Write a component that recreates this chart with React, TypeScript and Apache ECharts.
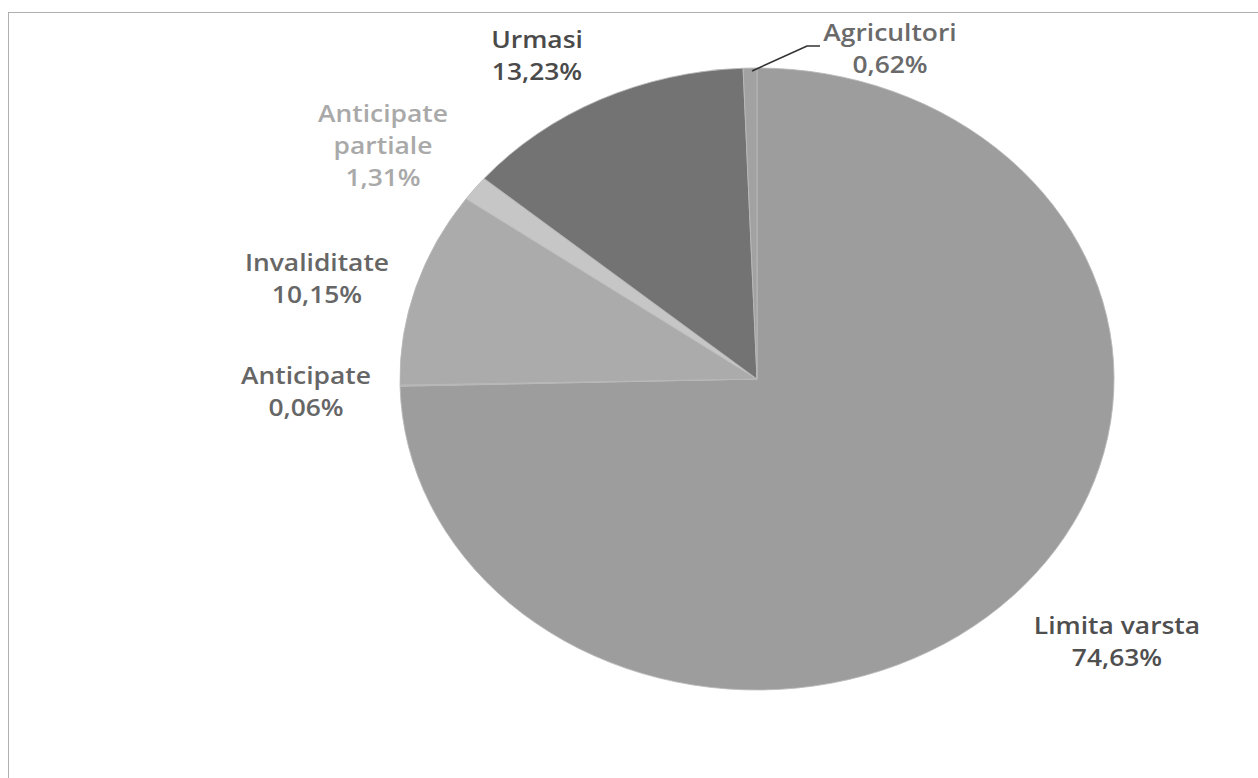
import React, { useEffect, useRef } from "react";
import * as echarts from "echarts";

// ---- data ----
const categories = ["Limita varsta", "Anticipate", "Invaliditate", "Anticipate partiale", "Urmasi", "Agricultori"];
const shares = [74.63, 0.06, 10.15, 1.31, 13.23, 0.62];

// ---- styles / layout (not data) ----
const sliceColors = ["#9d9d9d", "#b2b2b2", "#ababab", "#c6c6c6", "#737373", "#a2a2a2"];
const labelColors = ["#4f4f4f", "#666666", "#666666", "#a9a9a9", "#4a4a4a", "#6a6a6a"];
const labelWrap: Record<string, string> = { "Anticipate partiale": "Anticipate\npartiale" };
// label block centres in page pixels
const labelPos: number[][] = [
  [1117, 641],
  [306, 391],
  [317, 278],
  [383, 145],
  [537, 55],
  [890, 48],
];

const W = 1258;
const H = 778;
const SX = 1.148; // horizontal stretch of the scanned pie
const CX = 757;
const CY = 379;
const R = 311;

export default function App() {
  const ref = useRef<HTMLDivElement>(null);
  useEffect(() => {
    if (!ref.current) return;
    const chart = echarts.init(ref.current, null, { renderer: "svg" });
    const data = categories.map((name, i) => ({
      name,
      value: shares[i],
      itemStyle: { color: sliceColors[i] },
      label: { color: labelColors[i] },
    }));
    chart.setOption({
      animation: false,
      backgroundColor: "#ffffff",
      series: [
        {
          type: "pie",
          center: [CX / SX, CY],
          radius: R,
          startAngle: 90,
          clockwise: true,
          avoidLabelOverlap: false,
          itemStyle: { borderColor: "#b9b9b9", borderWidth: 0.8 },
          label: {
            show: true,
            position: "outside",
            fontFamily: "Open Sans",
            fontWeight: 600,
            fontSize: 23,
            lineHeight: 32,
            align: "center",
            formatter: (p: any) =>
              `${labelWrap[p.name] ?? p.name}\n${Number(p.value).toFixed(2).replace(".", ",")}%`,
          },
          labelLine: { show: false },
          labelLayout: (params: any) => {
            const p = labelPos[params.dataIndex];
            return { x: p[0] / SX, y: p[1], align: "center", verticalAlign: "middle" };
          },
          emphasis: { disabled: true },
          data,
        },
      ],
      graphic: [
        {
          type: "polyline",
          shape: {
            points: [
              [752 / SX, 71],
              [807 / SX, 46],
              [820 / SX, 46],
            ],
          },
          style: { stroke: "#333333", lineWidth: 1.5, fill: "none" },
          z: 100,
        },
      ],
    });
    return () => chart.dispose();
  }, []);

  return (
    <div
      style={{
        position: "fixed",
        left: 0,
        top: 0,
        width: W,
        height: H,
        overflow: "hidden",
        background: "#ffffff",
      }}
    >
      <div
        ref={ref}
        style={{
          position: "absolute",
          left: 0,
          top: 0,
          width: W / SX,
          height: H,
          transform: `scaleX(${SX})`,
          transformOrigin: "0 0",
        }}
      />
      <div
        style={{
          position: "absolute",
          left: 8,
          top: 12,
          width: W,
          height: H,
          borderTop: "1px solid #b0b0b0",
          borderLeft: "1px solid #b0b0b0",
          pointerEvents: "none",
        }}
      />
    </div>
  );
}
